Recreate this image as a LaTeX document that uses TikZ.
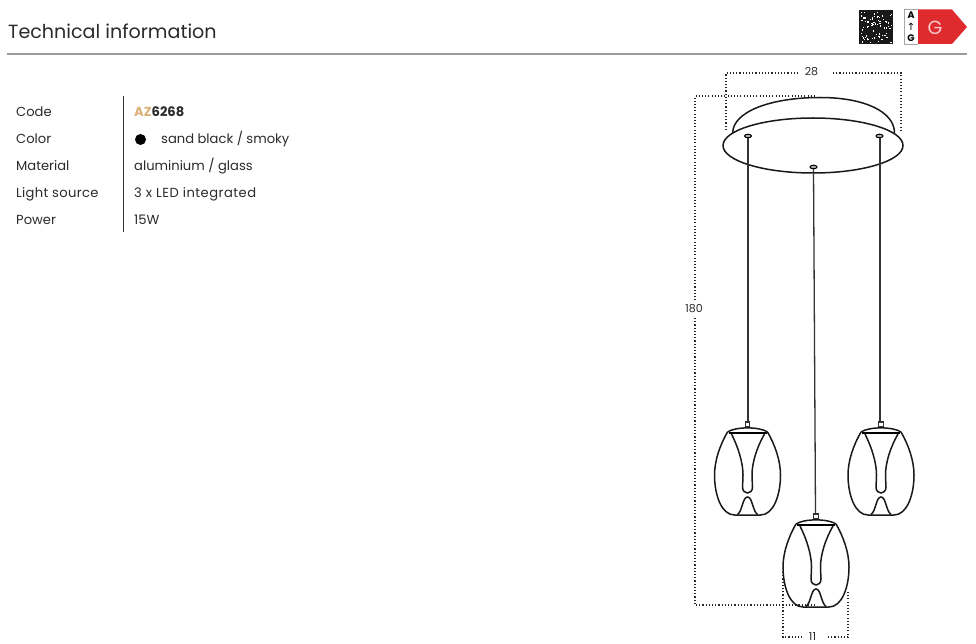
\documentclass[tikz,border=0pt]{standalone}
\usepackage{fontspec}
\setmainfont{Poppins}
\definecolor{txt}{HTML}{2B2B2B}
\definecolor{gold}{HTML}{DDB079}
\definecolor{rulegray}{HTML}{9A9A9A}
\definecolor{labelred}{HTML}{DF2A2E}
\newcommand{\lamp}[2]{%
 \begin{scope}[shift={(#1,#2)}]
  \draw[line width=1.1pt,black!80] (-2.2,-11) rectangle (2.2,-6);
  \draw[lampline] (-20,-1) .. controls (-12,-6.5) and (12,-6.5) .. (20,-1);
  \draw[line width=2.4pt,black] (-19,0) -- (19,0);
  \draw[lampline] (-20,-1) .. controls (-27,11) and (-33,27) .. (-33,42)
     .. controls (-33,62) and (-26,82) .. (-13,82) -- (13,82)
     .. controls (26,82) and (33,62) .. (33,42)
     .. controls (33,27) and (27,11) .. (20,-1);
  \draw[lampline] (-16,1) .. controls (-9,15) and (-4.5,30) .. (-4.5,42)
     .. controls (-4.5,48) and (-5,50) .. (-5,54)
     .. controls (-5,62) and (5,62) .. (5,54)
     .. controls (5,50) and (4.5,48) .. (4.5,42)
     .. controls (4.5,30) and (9,15) .. (17,1);
  \draw[lampline] (-10,81.5) .. controls (-5,78) and (-5,64) .. (0,64)
     .. controls (5,64) and (5,78) .. (10,81.5);
 \end{scope}}
\tikzset{
 lampline/.style={line width=1.5pt,draw=black!90},
 cord/.style={line width=1.3pt,black!80},
 dim/.style={line width=1.1pt,black!85,dash pattern=on 1.1pt off 2.1pt},
 rowlabel/.style={anchor=base west,font=\fontsize{13.1}{15}\selectfont,text=txt,inner sep=0pt},
 dimlabel/.style={font=\fontsize{11}{12}\selectfont,text=txt,inner sep=0pt},
}
\begin{document}
\begin{tikzpicture}[x=1pt,y=-1pt]
\useasboundingbox (0,0) rectangle (976,644);
\fill[white] (0,0) rectangle (976,644);
% header
\node[anchor=base west,font=\fontsize{19.1}{22}\selectfont,text=txt,inner sep=0pt] (title) at (8,39) {Technical information};
\draw[rulegray,line width=1.6pt] (7,54) -- (967,54);
% black speckled square
\fill[black!90] (859,10) rectangle (893,44);
\pgfmathsetseed{42}
\foreach \i in {1,...,75}{
  \pgfmathsetmacro{\px}{860+rnd*31}
  \pgfmathsetmacro{\py}{11+rnd*31}
  \fill[white] (\px,\py) rectangle ++(1.3,1.3);
}
% energy label
\fill[labelred] (918,9.5) -- (952,9.5) -- (967,27) -- (952,44) -- (918,44) -- cycle;
\draw[black!35,line width=0.4pt] (918,9.5) -- (904,9.5) -- (904,44) -- (918,44);
\node[font=\bfseries\fontsize{9.5}{9.5}\selectfont,inner sep=0pt] (ea) at (911,15.5) {A};
\node[font=\fontsize{10}{10}\selectfont,inner sep=0pt] (eb) at (911,27) {\fontspec{DejaVu Sans}↑};
\node[font=\bfseries\fontsize{9.5}{9.5}\selectfont,inner sep=0pt] (ec) at (911,38) {G};
\node[font=\fontsize{19}{19}\selectfont,text=labelred!25!white,inner sep=0pt] (eg) at (935,27.5) {G};
% table
\draw[black!80,line width=0.9pt] (123.5,96) -- (123.5,232);
\node[rowlabel] (l1) at (16,117) {Code};
\node[rowlabel] (l2) at (16,144) {Color};
\node[rowlabel] (l3) at (16,171) {Material};
\node[rowlabel] (l4) at (16,198) {\addfontfeature{LetterSpace=2.5}Light source};
\node[rowlabel] (l5) at (16,225) {Power};
\node[rowlabel] (v1) at (134,117) {\textcolor{gold}{\textbf{AZ}}\textbf{6268}};
\fill[black] (140.5,139.5) circle (5.5);
\node[rowlabel] (v2) at (161,144) {sand black / smoky};
\node[rowlabel] (v3) at (134,171) {aluminium / glass};
\node[rowlabel] (v4) at (134,198) {\addfontfeature{LetterSpace=3.8}3 x LED integrated};
\node[rowlabel] (v5) at (134,225) {15W};
% dimension lines
\draw[dim] (726,130) -- (726,73) -- (799,73);
\draw[dim] (833,73) -- (901,73) -- (901,130);
\draw[dim] (815,96) -- (695,96) -- (695,300);
\draw[dim] (695,318) -- (695,605) -- (815,605);
\draw[dim] (783,572) -- (783,637) -- (803,637);
\draw[dim] (828,637) -- (848,637) -- (848,590);
\node[dimlabel] (d28) at (811.5,71.5) {28};
\node[dimlabel] (d180) at (694,309) {180};
\node[dimlabel] (d11) at (812.5,637) {11};
% canopy
\draw[lampline] (732.7,133) .. controls (732.7,112) and (770,97.5) .. (820,97.5)
   .. controls (865,97.5) and (894.5,112) .. (894.5,133);
\draw[lampline,fill=white] (813,145.5) ellipse (90 and 27.5);
\foreach \hx/\hy in {748/136,879.5/136,813.5/167}
  \draw[line width=1pt,fill=black!30] (\hx,\hy) ellipse (3.5 and 1.8);
% cords
\draw[cord] (748,138) -- (748,422);
\draw[cord] (880,138) -- (880,422);
\draw[cord] (813.5,169) -- (815.5,514);
% lamps
\lamp{747.5}{433}
\lamp{881}{433}
\lamp{816}{525}
\end{tikzpicture}
\end{document}
